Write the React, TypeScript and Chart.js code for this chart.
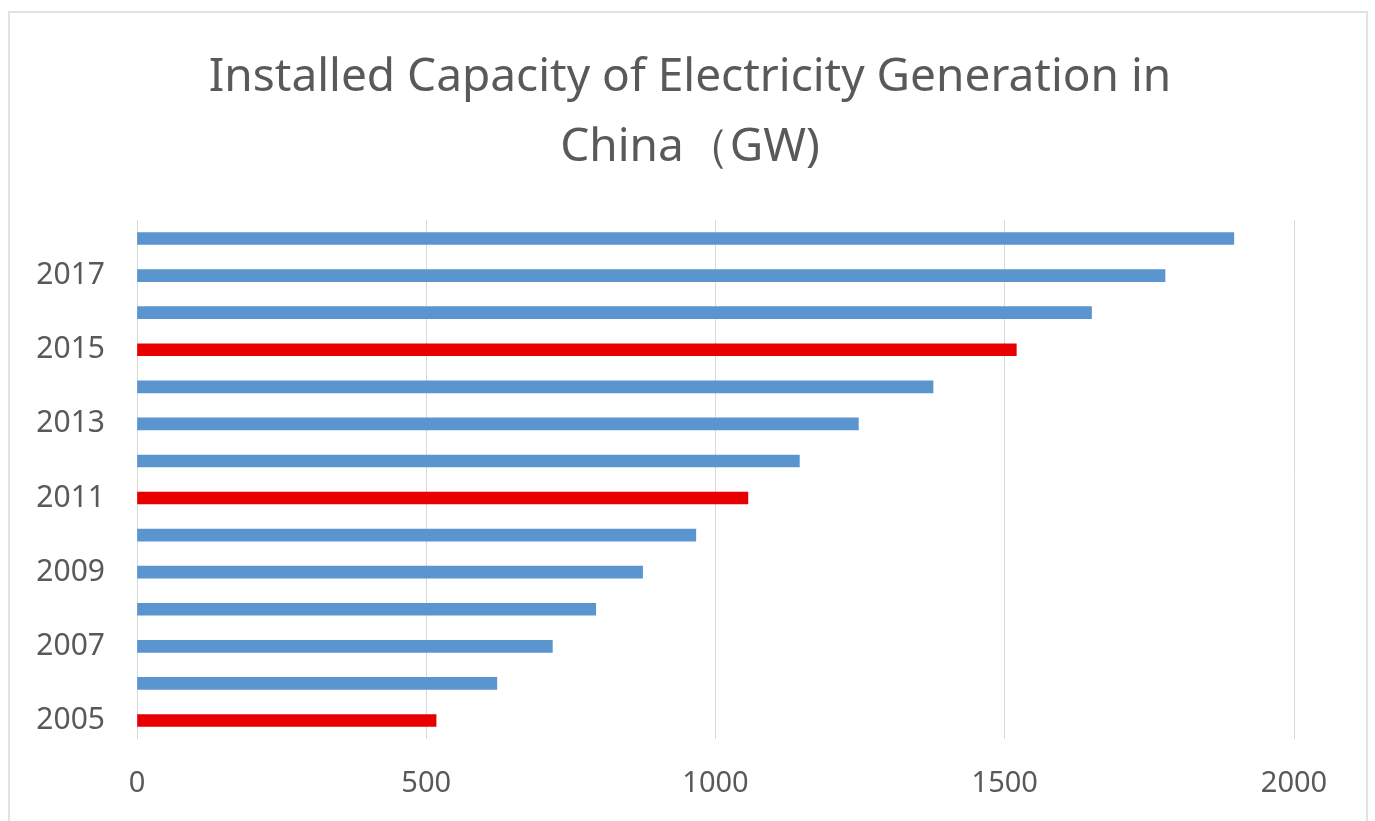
import React, { useEffect, useRef } from "react";
import { Chart, registerables } from "chart.js";

Chart.register(...registerables);

const years = ["2005", "2006", "2007", "2008", "2009", "2010", "2011", "2012", "2013", "2014", "2015", "2016", "2017", "2018"];
const capacityGW = [517, 622, 718, 793, 874, 966, 1056, 1145, 1247, 1376, 1520, 1650, 1777, 1896];
const highlightYears = ["2005", "2011", "2015"];
const shownYearLabels = ["2005", "2007", "2009", "2011", "2013", "2015", "2017"];
const xTicks = [0, 500, 1000, 1500, 2000];
const titleLines = ["Installed Capacity of Electricity Generation in", "China\uFF08GW)"];

const BLUE = "#5B95CF";
const RED = "#E80000";
const TEXT = "#595959";
const FONT = "'Noto Sans', 'Open Sans', sans-serif";

export default function App() {
  const ref = useRef<HTMLCanvasElement | null>(null);

  useEffect(() => {
    if (!ref.current) return;
    const chart = new Chart(ref.current, {
      type: "bar",
      data: {
        labels: years,
        datasets: [
          {
            data: capacityGW,
            backgroundColor: years.map((y) => (highlightYears.includes(y) ? RED : BLUE)),
            barThickness: 12,
            borderWidth: 0,
            yAxisID: "y",
          },
        ],
      },
      options: {
        indexAxis: "y",
        animation: false,
        responsive: false,
        maintainAspectRatio: false,
        layout: { padding: { left: 5, right: 0, top: 0, bottom: 0 } },
        plugins: {
          legend: { display: false },
          tooltip: { enabled: false },
          title: {
            display: true,
            text: titleLines,
            color: TEXT,
            font: { family: FONT, size: 46, weight: "normal", lineHeight: 70 / 46 },
            padding: { top: 43, bottom: 37 },
          },
        },
        scales: {
          x: {
            type: "linear",
            min: 0,
            max: 2000,
            afterBuildTicks: (axis: any) => {
              axis.ticks = xTicks.map((v) => ({ value: v }));
            },
            afterFit: (axis: any) => {
              axis.height = 82;
            },
            grid: { color: "#D9D9D9", lineWidth: 1, drawTicks: false },
            border: { display: false },
            ticks: {
              color: TEXT,
              padding: 27,
              font: { family: FONT, size: 29 },
              maxRotation: 0,
              callback: (v: any) => String(v),
            },
          },
          y: {
            type: "category",
            position: "left",
            reverse: true,
            afterFit: (axis: any) => {
              axis.width = 132;
            },
            grid: { display: false, drawTicks: false },
            border: { display: false },
            ticks: {
              autoSkip: false,
              color: TEXT,
              padding: 32,
              font: { family: FONT, size: 30 },
              callback: function (this: any, value: any) {
                const lbl = years[value as number];
                return shownYearLabels.includes(lbl) ? lbl : "";
              },
            },
          },
          yRight: {
            type: "category",
            position: "right",
            labels: years,
            afterFit: (axis: any) => {
              axis.width = 81;
            },
            grid: { display: false, drawTicks: false },
            border: { display: false },
            ticks: { display: false },
          },
        },
      },
    });
    return () => chart.destroy();
  }, []);

  return (
    <div>
      <div
        style={{
          position: "fixed",
          left: 8,
          top: 11,
          width: 1360,
          height: 830,
          borderTop: "2px solid #E2E2E2",
          borderLeft: "2px solid #E2E2E2",
          borderRight: "2px solid #E2E2E2",
          boxSizing: "border-box",
        }}
      />
      <canvas
        ref={ref}
        width={1375}
        height={821}
        style={{ position: "fixed", left: 0, top: 0, width: 1375, height: 821 }}
      />
    </div>
  );
}
